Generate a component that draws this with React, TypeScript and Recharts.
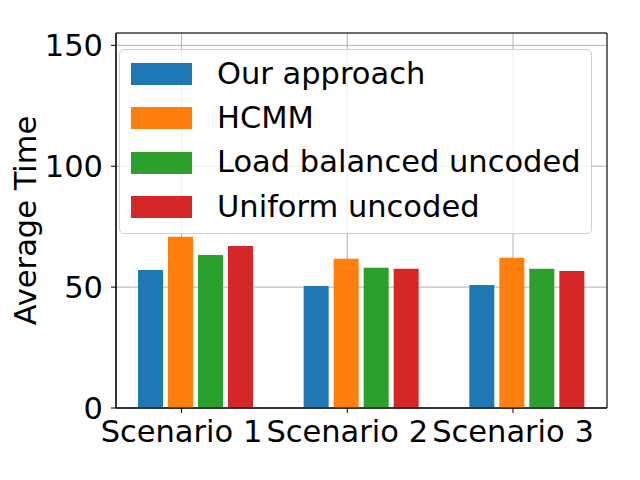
import { BarChart, Bar, XAxis, YAxis, CartesianGrid, Legend, ReferenceArea, Label } from 'recharts';

const categories = ['Scenario 1', 'Scenario 2', 'Scenario 3'];
const positions = [0, 1, 2];
const ourApproach = [57.1, 50.5, 50.9];
const hcmm = [70.8, 61.7, 62.1];
const loadBalanced = [63.3, 58.0, 57.6];
const uniformUncoded = [67.0, 57.6, 56.7];
const yTicks = [0, 50, 100, 150];

const xDomain: [number, number] = [-0.395, 2.567];
const yDomain: [number, number] = [0, 155.1];

const FONT = 'DejaVu Sans';
const FS = 30.5;

const series = [
  { key: 'ours', name: 'Our approach', color: '#1f77b4' },
  { key: 'hcmm', name: 'HCMM', color: '#ff7f0e' },
  { key: 'balanced', name: 'Load balanced uncoded', color: '#2ca02c' },
  { key: 'uniform', name: 'Uniform uncoded', color: '#d62728' },
];

const data = categories.map((name, i) => ({
  name,
  pos: positions[i],
  ours: ourApproach[i],
  hcmm: hcmm[i],
  balanced: loadBalanced[i],
  uniform: uniformUncoded[i],
}));

const LegendBox = () => (
  <div
    style={{
      boxSizing: 'border-box',
      width: 473,
      height: 185,
      paddingTop: 2,
      border: '1px solid #d0d0d0',
      borderRadius: 5,
      background: 'rgba(255,255,255,0.8)',
      fontFamily: FONT,
    }}
  >
    {series.map((s) => (
      <div key={s.key} style={{ display: 'flex', alignItems: 'center', height: 44.3 }}>
        <span style={{ display: 'inline-block', flex: 'none', width: 61, height: 22, marginLeft: 11, background: s.color }} />
        <span style={{ marginLeft: 25, fontSize: FS, lineHeight: 1, color: '#000', whiteSpace: 'nowrap' }}>{s.name}</span>
      </div>
    ))}
  </div>
);

const YTitle = ({ viewBox }: any) => {
  const cy = viewBox.y + viewBox.height / 2;
  const x = viewBox.x + 36;
  return (
    <text x={x} y={cy} transform={`rotate(-90, ${x}, ${cy})`} textAnchor="middle" fontSize={FS} fontFamily={FONT} fill="#000">
      Average Time
    </text>
  );
};

export default function App() {
  return (
    <div style={{ position: 'absolute', left: 0, top: 0, width: 640, height: 480, background: '#fff' }}>
      <BarChart
        width={640}
        height={480}
        data={data}
        margin={{ top: 33, right: 33, left: 0, bottom: 0 }}
        barGap={5}
        style={{ fontFamily: FONT }}
      >
        <XAxis xAxisId="cat" dataKey="name" hide height={0} padding={{ left: -3, right: -3 }} />
        <XAxis
          xAxisId="tick"
          type="number"
          dataKey="pos"
          domain={xDomain}
          ticks={positions}
          interval={0}
          allowDataOverflow
          height={72}
          tickSize={5}
          tickMargin={7}
          tickFormatter={(v: number) => categories[v]}
          tick={{ fontSize: FS, fill: '#000', fontFamily: FONT }}
          tickLine={{ stroke: '#000' }}
          axisLine={{ stroke: '#000' }}
        />
        <YAxis
          type="number"
          width={116}
          domain={yDomain}
          ticks={yTicks}
          interval={0}
          allowDataOverflow
          tickSize={5}
          tickMargin={8}
          tick={{ fontSize: FS, fill: '#000', fontFamily: FONT }}
          tickLine={{ stroke: '#000' }}
          axisLine={{ stroke: '#000' }}
        >
          <Label content={YTitle} />
        </YAxis>
        {series.map((s) => (
          <Bar key={s.key} xAxisId="cat" dataKey={s.key} name={s.name} fill={s.color} barSize={25} isAnimationActive={false} />
        ))}
        <CartesianGrid xAxisId="tick" stroke="#b0b0b0" strokeWidth={1} />
        <ReferenceArea
          xAxisId="tick"
          x1={xDomain[0]}
          x2={xDomain[1]}
          y1={yDomain[0]}
          y2={yDomain[1]}
          fill="none"
          stroke="#000"
          strokeWidth={1}
          ifOverflow="visible"
        />
        <Legend
          layout="vertical"
          verticalAlign="middle"
          align="center"
          content={LegendBox}
          wrapperStyle={{ top: 49, left: 119, width: 473, height: 185 }}
        />
      </BarChart>
    </div>
  );
}
